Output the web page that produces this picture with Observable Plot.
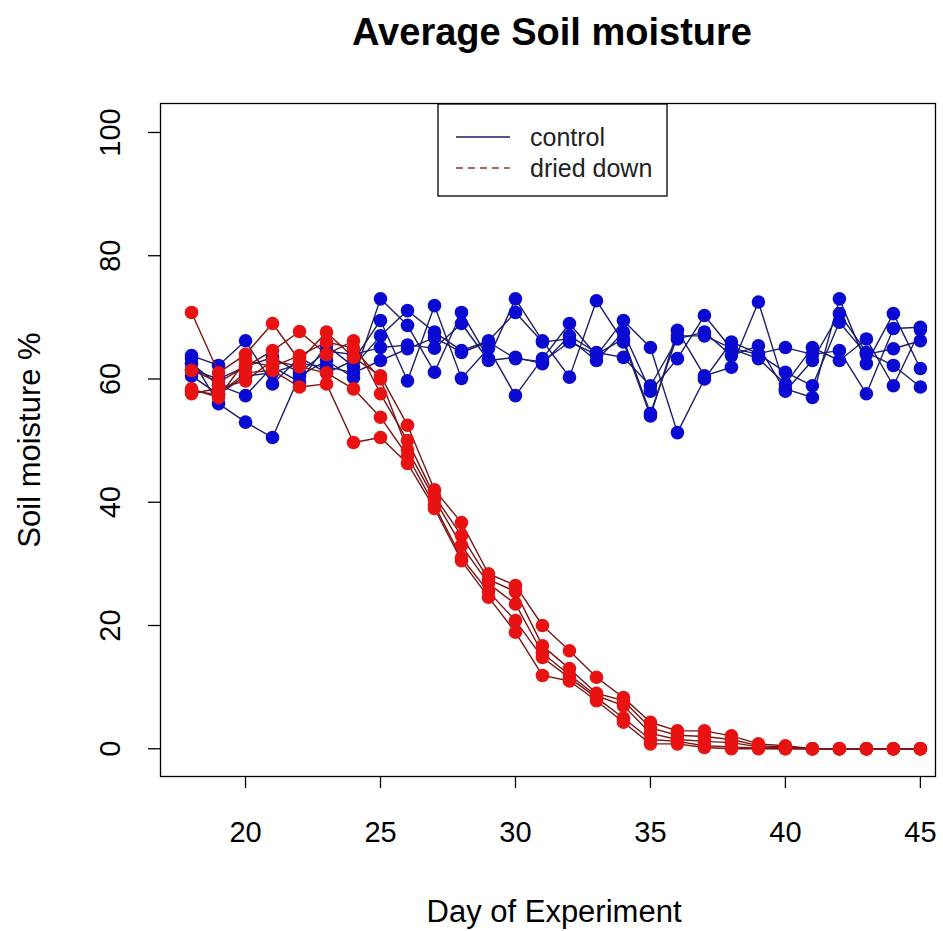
<!DOCTYPE html>
<html><head><meta charset="utf-8">
<script src="https://cdn.jsdelivr.net/npm/d3@7"></script>
<script src="https://cdn.jsdelivr.net/npm/@observablehq/plot@0.6"></script>
<style>
body{margin:0;background:#fff}
#chart{position:relative;width:943px;height:931px}
</style>
</head><body><div id="chart"></div>
<script>
const days = [18,19,20,21,22,23,24,25,26,27,28,29,30,31,32,33,34,35,36,37,38,39,40,41,42,43,44,45];

const control1 = [63.3,56,53,50.5,60.5,63,60.2,73,68.7,61.1,70.8,63.3,73,66.2,60.3,72.7,66,54,67.9,60.5,61.9,72.5,58.4,57,73,62.5,70.6,61.7];
const control2 = [63.8,62.2,66.2,59.2,63.5,61,63,69.5,59.7,71.9,60.1,65,57.3,63.3,69,63.8,69.5,65.1,51.3,60,66,64.1,65.1,64,64.6,57.6,68.2,68.4];
const control3 = [62.5,59,57.3,62,59.5,65.5,62,67,71.1,67.6,64.6,66.2,70.8,66,66.5,63,67.6,58,63.3,70.3,64.9,63.3,59.2,65.1,63,66.5,58.9,68];
const control4 = [61.5,60,62,63.5,61,64.5,64,65.1,65.5,65,69,63,63.5,62.5,67,64.3,63.5,58.9,66.5,67.6,63.8,65.4,58,63,70.6,64.3,62.2,58.7];
const control5 = [60.5,57.5,60.5,61,62.5,62,61,63,64.9,66.7,64.3,66,63.3,62.8,66,64,66.5,54.4,67,67,65,64,61.1,58.9,69.2,64,64.9,66.2];

const dried1 = [70.8,61,64,69,63,67.6,63.5,60.5,52.5,42,36.7,28.4,26.5,20,15.9,11.6,8.3,4.3,2.9,2.9,2.1,0.8,0.5,0,0,0,0,0];
const dried2 = [61.4,59.5,62,64.6,67.7,64,66.2,57.6,50,41,34.6,27.5,25.5,16.7,13,9,7.8,3.4,2.2,2,1.5,0.5,0.3,0,0,0,0,0];
const dried3 = [58.4,57,63,62,63.8,66,65,60,48.5,40.5,33,26.8,23.5,15.5,12,8.6,7,2.5,1.5,1.2,1,0.3,0.2,0,0,0,0,0];
const dried4 = [57.6,58.5,59.7,63,62,61,58.4,53.8,47.5,39.5,31,25.5,20.8,14.8,11.5,8.3,5,1.5,1.2,0.5,0.3,0.1,0,0,0,0,0,0];
const dried5 = [58,57.5,61,61.4,58.7,59.2,49.7,50.5,46.3,39,30.5,24.6,18.9,11.9,11,7.8,4.3,0.8,0.8,0.2,0,0,0,0,0,0,0,0];

const xTicks = [20,25,30,35,40,45];
const yTicks = [0,20,40,60,80,100];
const titleText = "Average Soil moisture";
const xLabel = "Day of Experiment";
const yLabel = "Soil moisture %";
const legendLabels = ["control","dried down"];

const controlSeries = [control1,control2,control3,control4,control5];
const driedSeries = [dried1,dried2,dried3,dried4,dried5];
const controlRows = [];
controlSeries.forEach((s,i)=>s.forEach((v,j)=>controlRows.push({day:days[j],value:v,id:"c"+i})));
const driedRows = [];
driedSeries.forEach((s,i)=>s.forEach((v,j)=>driedRows.push({day:days[j],value:v,id:"d"+i})));

const blueLine = "#1d1d6b", bluePt = "#0a0ad2";
const redLine = "#7d1414", redPt = "#e81212";
const font = "'Liberation Sans', Arial, sans-serif";

const chart = Plot.plot({
  width: 943, height: 931,
  marginTop: 103, marginBottom: 155, marginLeft: 160, marginRight: 8,
  style: {fontFamily: font, background: "white", color: "black"},
  x: {domain: [16.85, 45.56]},
  y: {domain: [-4.5, 104.7]},
  marks: [
    Plot.axisX(xTicks, {tickSize: 12, tickPadding: 33, fontSize: 29, label: null, stroke: "black", strokeWidth: 1.3}),
    Plot.axisY(yTicks, {tickSize: 12, tickFormat: () => "", label: null, stroke: "black", strokeWidth: 1.3}),
    Plot.text(yTicks, {y: d => d, text: d => String(d), frameAnchor: "left", textAnchor: "middle", lineAnchor: "middle", dx: -50, rotate: -90, fontSize: 29}),
    Plot.line(controlRows, {x: "day", y: "value", z: "id", stroke: blueLine, strokeWidth: 1.4}),
    Plot.dot(controlRows, {x: "day", y: "value", r: 6.8, fill: bluePt, stroke: "none"}),
    Plot.line(driedRows, {x: "day", y: "value", z: "id", stroke: redLine, strokeWidth: 1.4}),
    Plot.dot(driedRows, {x: "day", y: "value", r: 6.8, fill: redPt, stroke: "none"}),
    Plot.frame({stroke: "black", strokeWidth: 1.3}),
    Plot.text([titleText], {text: d => d, frameAnchor: "top", lineAnchor: "middle", dy: -71, dx: 4, fontSize: 38, fontWeight: "bold"}),
    Plot.text([xLabel], {text: d => d, frameAnchor: "bottom", lineAnchor: "middle", dy: 136, dx: 6, fontSize: 31}),
    Plot.text([yLabel], {text: d => d, frameAnchor: "left", textAnchor: "middle", lineAnchor: "middle", dx: -130, rotate: -90, fontSize: 31})
  ]
});
document.getElementById("chart").appendChild(chart);

// legend
const svg = d3.select(chart);
const lg = svg.append("g").attr("font-family", font).attr("text-anchor", "start");
lg.append("rect").attr("x", 438).attr("y", 104).attr("width", 229).attr("height", 92)
  .attr("fill", "white").attr("stroke", "black").attr("stroke-width", 1.3);
const legendStyles = [{stroke: blueLine, dash: null}, {stroke: "#8b3a3a", dash: "7,5"}];
legendLabels.forEach((lab, i) => {
  const yy = 137 + i * 31;
  const ln = lg.append("line").attr("x1", 456).attr("x2", 510).attr("y1", yy).attr("y2", yy)
    .attr("stroke", legendStyles[i].stroke).attr("stroke-width", 1.4);
  if (legendStyles[i].dash) ln.attr("stroke-dasharray", legendStyles[i].dash);
  lg.append("text").attr("x", 530).attr("y", yy).attr("dy", "0.35em").attr("text-anchor", "start")
    .attr("font-size", 25).attr("fill", "#222").text(lab);
});
</script>
</body></html>
